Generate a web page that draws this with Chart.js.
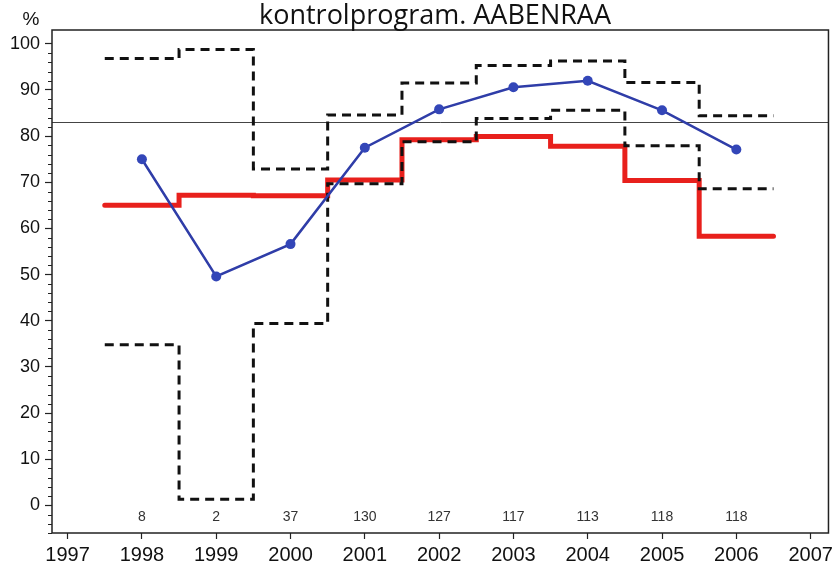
<!DOCTYPE html>
<html>
<head>
<meta charset="utf-8">
<script src="https://cdn.jsdelivr.net/npm/chart.js@4/dist/chart.umd.min.js"></script>
<style>
  html, body { margin:0; padding:0; background:#fff; }
  #wrap { position:relative; width:837px; height:573px; }
</style>
</head>
<body>
<div id="wrap"><canvas id="chart" width="837" height="573"></canvas></div>
<script>
// values
var years        = [1998, 1999, 2000, 2001, 2002, 2003, 2004, 2005, 2006];
var patientCount = [8, 2, 37, 130, 127, 117, 113, 118, 118];
var observedPct  = [75.0, 49.6, 56.6, 77.5, 85.8, 90.6, 92.0, 85.6, 77.1];
var expectedPct  = [65.0, 67.2, 67.1, 70.5, 79.2, 79.9, 77.8, 70.4, 58.3];
var upperLimit   = [96.8, 98.8, 72.9, 84.6, 91.5, 95.3, 96.3, 91.6, 84.4];
var lowerLimit   = [34.8, 1.3, 39.4, 69.7, 78.8, 83.8, 85.6, 77.9, 68.6];
var standardPct  = 83;
var yearTicks    = [1997, 1998, 1999, 2000, 2001, 2002, 2003, 2004, 2005, 2006, 2007];

var TITLE = 'kontrolprogram. AABENRAA';
var SANS = '"Liberation Sans", Arial, sans-serif';

// horizontal steps one year wide, centred on each year
function steps(vals){
	var pts = years.map(function(yr, i){ return {x: yr - 0.5, y: vals[i]}; });
	pts.push({x: years[years.length-1] + 0.5, y: vals[vals.length-1]});
	return pts;
}

var extras = {
	id: 'extras',
	beforeDatasetsDraw: function(chart){
		var ctx = chart.ctx, a = chart.chartArea, ys = chart.scales.y;
		var yy = Math.round(ys.getPixelForValue(standardPct)) + 0.5;
		ctx.save();
		ctx.strokeStyle = '#444';
		ctx.lineWidth = 1;
		ctx.beginPath();
		ctx.moveTo(a.left, yy);
		ctx.lineTo(a.right, yy);
		ctx.stroke();
		ctx.restore();
	},
	afterDraw: function(chart){
		var ctx = chart.ctx, a = chart.chartArea, xs = chart.scales.x, ys = chart.scales.y;
		ctx.save();
		// frame
		ctx.strokeStyle = '#222';
		ctx.lineWidth = 1.5;
		ctx.strokeRect(a.left, a.top, a.right - a.left, a.bottom - a.top);
		// minor ticks on y
		ctx.lineWidth = 1;
		ctx.beginPath();
		ys.ticks.forEach(function(t){
			if (t.value % 10 !== 0) {
				var p = Math.round(ys.getPixelForValue(t.value)) + 0.5;
				ctx.moveTo(a.left - 4, p);
				ctx.lineTo(a.left, p);
			}
		});
		ctx.stroke();
		// patient counts along the bottom
		ctx.fillStyle = '#333';
		ctx.font = '14px ' + SANS;
		ctx.textAlign = 'center';
		ctx.textBaseline = 'middle';
		years.forEach(function(yr, i){
			ctx.fillText(String(patientCount[i]), xs.getPixelForValue(yr), ys.getPixelForValue(-2.6));
		});
		// title and unit
		ctx.fillStyle = '#111';
		ctx.textBaseline = 'alphabetic';
		ctx.font = '27px "Open Sans", sans-serif';
		ctx.fillText(TITLE, 435, 24);
		ctx.font = '19px ' + SANS;
		ctx.fillText('%', 31, 25);
		ctx.restore();
	}
};

var ctx = document.getElementById('chart').getContext('2d');
var myChart = new Chart(ctx, {
	type: 'line',
	data: {
		datasets: [
			{
				label: 'observed',
				data: years.map(function(yr, i){ return {x: yr, y: observedPct[i]}; }),
				borderColor: '#2f3da8',
				backgroundColor: '#3346b8',
				borderWidth: 2.5,
				pointRadius: 5,
				pointBorderWidth: 0
			},
			{
				label: 'upper',
				data: steps(upperLimit),
				stepped: true,
				borderColor: '#111',
				borderWidth: 3,
				borderDash: [9, 6],
				pointRadius: 0
			},
			{
				label: 'lower',
				data: steps(lowerLimit),
				stepped: true,
				borderColor: '#111',
				borderWidth: 3,
				borderDash: [9, 6],
				pointRadius: 0
			},
			{
				label: 'expected',
				data: steps(expectedPct),
				stepped: true,
				borderColor: '#e8201c',
				borderWidth: 5,
				borderCapStyle: 'round',
				pointRadius: 0
			}
		]
	},
	options: {
		responsive: false,
		animation: false,
		layout: { padding: { top: 30, right: 4, left: 0, bottom: 0 } },
		plugins: {
			legend: { display: false },
			title: { display: false },
			tooltip: { enabled: false }
		},
		scales: {
			x: {
				type: 'linear',
				min: 1996.79,
				max: 2007.24,
				afterBuildTicks: function(s){
					s.ticks = yearTicks.map(function(v){ return {value: v}; });
				},
				afterFit: function(s){ s.height = 40; },
				border: { display: false },
				grid: { drawOnChartArea: false, tickLength: 6, color: '#222', tickWidth: 1.2 },
				ticks: {
					color: '#111',
					font: { family: SANS, size: 20 },
					padding: 4,
					maxRotation: 0,
					callback: function(v){ return String(v); }
				}
			},
			y: {
				min: -6,
				max: 103,
				afterBuildTicks: function(s){
					s.ticks = s.ticks.filter(function(t){ return t.value % 2 === 0; });
				},
				afterFit: function(s){ s.width = 52; },
				border: { display: false },
				grid: {
					drawOnChartArea: false,
					tickLength: 7,
					tickWidth: 1.2,
					tickColor: function(c){ return c.tick && c.tick.value % 10 === 0 ? '#222' : 'rgba(0,0,0,0)'; }
				},
				ticks: {
					stepSize: 2,
					color: '#111',
					font: { family: SANS, size: 18 },
					padding: 5,
					autoSkip: false,
					callback: function(v){ return v % 10 === 0 ? String(v) : ''; }
				}
			}
		}
	},
	plugins: [extras]
});
</script>
</body>
</html>
